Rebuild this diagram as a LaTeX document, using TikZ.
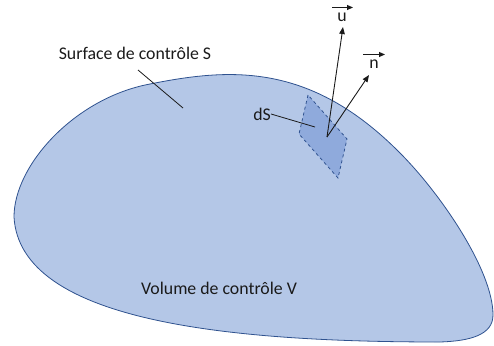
\documentclass[tikz,border=0pt]{standalone}
\usepackage{fontspec}
\setmainfont{Carlito}
\usetikzlibrary{arrows.meta}
\definecolor{blobfill}{HTML}{B4C7E7}
\definecolor{blobline}{HTML}{2F528F}
\definecolor{patchfill}{HTML}{8FAADC}
\definecolor{ink}{HTML}{1A1A1A}
\tikzset{
  lbl/.style={inner sep=0pt, font=\fontsize{17.8}{20}\selectfont, text=ink},
  leader/.style={draw=ink, line width=0.8pt},
  vec/.style={draw=ink, line width=0.9pt, -{Triangle[length=7pt,width=5.5pt]}},
  overarrow/.style={draw=ink, line width=0.9pt, -{Triangle[length=6pt,width=5pt]}},
}
\begin{document}
\begin{tikzpicture}[x=1pt,y=-1pt]
\useasboundingbox (0,0) rectangle (494,345);
% control volume
\draw[fill=blobfill, draw=blobline, line width=0.8pt]
  (14,217) .. controls (14,165) and (75,98) .. (150,84)
  .. controls (230,68) and (310,62) .. (400,153)
  .. controls (440,193) and (493,270) .. (493,315)
  .. controls (493,335) and (470,341) .. (440,342)
  .. controls (230,342) and (20,322) .. cycle;
% surface element
\coordinate (p1) at (308,95);
\coordinate (p2) at (299,134);
\coordinate (p3) at (338,178);
\coordinate (p4) at (347,139);
\draw[fill=patchfill, draw=blobline, dashed, line width=0.8pt] (p1) -- (p2) -- (p3) -- (p4) -- cycle;
\coordinate (o) at (327,137);
% labels
\node[lbl] (surf) at (135,53) {Surface de contrôle S};
\node[lbl] (vol) at (219,288) {Volume de contrôle V};
\node[lbl, anchor=east] (ds) at (271,114) {dS};
\node[lbl] (ulab) at (342,17) {u};
\node[lbl] (nlab) at (374,64) {n};
\coordinate (surfstart) at (138,70);
\coordinate (surfend) at (183,108);
\coordinate (dsend) at (315,127);
\coordinate (utip) at (343,27);
\coordinate (ntip) at (369,75);
% leaders
\draw[leader] (surfstart) -- (surfend);
\draw[leader] (ds.east) -- (dsend);
% vectors
\draw[vec] (o) -- (utip);
\draw[vec] (o) -- (ntip);
\draw[overarrow] ([shift={(-10pt,5pt)}]ulab.north) -- ++(21,0);
\draw[overarrow] ([shift={(-11pt,5pt)}]nlab.north) -- ++(22,0);
\end{tikzpicture}
\end{document}
